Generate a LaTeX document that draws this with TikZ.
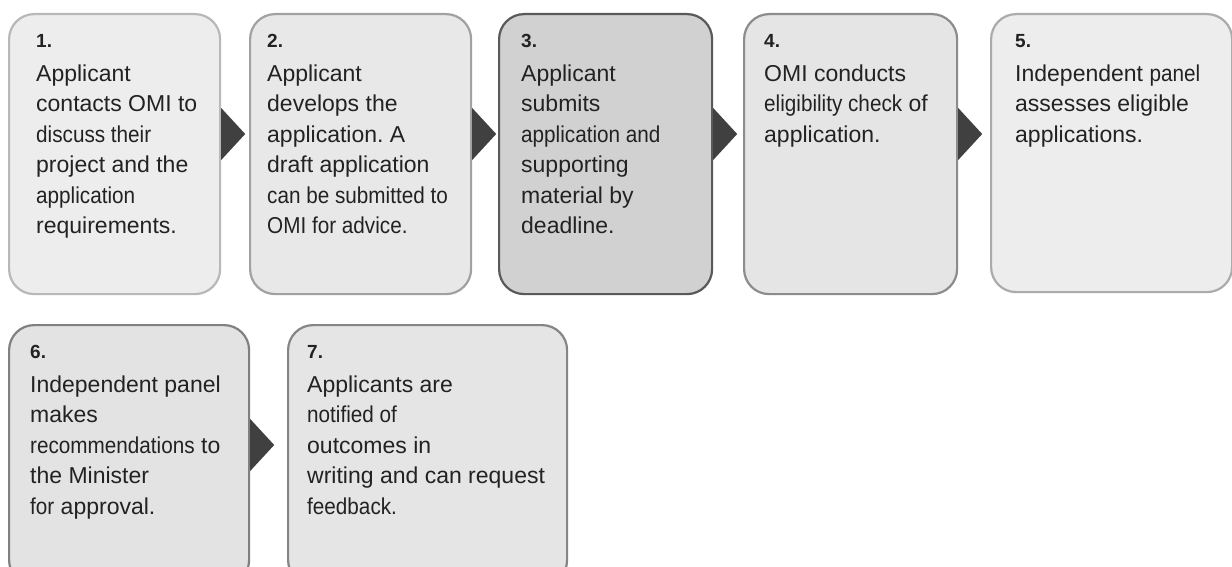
\documentclass[tikz,border=0pt]{standalone}
\usepackage{fontspec}
\usepackage{graphicx}
\setmainfont{Liberation Sans}
\newcommand{\cn}[1]{\scalebox{0.9}[1]{#1}}
\newcommand{\num}[1]{{\fontsize{19}{19}\selectfont\bfseries #1}}
\usetikzlibrary{calc}
\definecolor{arrowc}{HTML}{404040}
\definecolor{txtc}{HTML}{222222}
\frenchspacing
\begin{document}
\begin{tikzpicture}[x=1pt,y=-1pt,
  box/.style={draw, rounded corners=25pt, line width=2.2pt, anchor=north west, inner sep=0pt},
  txt/.style={anchor=north west, align=left, inner sep=0pt, text=txtc,
    font=\fontsize{23}{30.5}\selectfont},
  chev/.style={fill=arrowc}]
\useasboundingbox (0,0) rectangle (1232,567);
\clip (0,0) rectangle (1232,567);
% row 1
\node[box, draw=black!28, fill=black!7, minimum width=211pt, minimum height=280pt] (b1) at (8,13) {};
\node[box, draw=black!37, fill=black!9, minimum width=221pt, minimum height=280pt] (b2) at (249,13) {};
\node[box, draw=black!65, fill=black!18, minimum width=213pt, minimum height=280pt] (b3) at (498,13) {};
\node[box, draw=black!45, fill=black!10, minimum width=213pt, minimum height=280pt] (b4) at (743,13) {};
\node[box, draw=black!33, fill=black!7, minimum width=241pt, minimum height=278pt] (b5) at (990,13) {};
% row 2
\node[box, draw=black!50, fill=black!11, minimum width=240pt, minimum height=260pt] (b6) at (8,324) {};
\node[box, draw=black!48, fill=black!10, minimum width=279pt, minimum height=260pt] (b7) at (287,324) {};
% chevrons
\foreach \b in {b1,b2,b3,b4,b6}{
  \fill[chev] ($(\b.north east)+(0,95)$) -- ($(\b.north east)+(24,121)$) -- ($(\b.north east)+(0,147)$) -- cycle;
}
% texts
\node[txt] (t1) at ($(b1.north west)+(28,21)$) {\num{1.}\\[3.5pt]
Applicant\\ contacts OMI to\\ \cn{discuss their}\\ project and the\\ \cn{application}\\ requirements.};
\node[txt] (t2) at ($(b2.north west)+(18,21)$) {\num{2.}\\[3.5pt]
Applicant\\ develops the\\ application. A\\ draft application\\ \cn{can be submitted to}\\ \cn{OMI for advice.}};
\node[txt] (t3) at ($(b3.north west)+(23,21)$) {\num{3.}\\[3.5pt]
Applicant\\ submits\\ \cn{application and}\\ supporting\\ material by\\ deadline.};
\node[txt] (t4) at ($(b4.north west)+(21,21)$) {\num{4.}\\[3.5pt]
OMI conducts\\ \cn{eligibility check} of\\ application.};
\node[txt] (t5) at ($(b5.north west)+(25,21)$) {\num{5.}\\[3.5pt]
Independent \cn{panel}\\ assesses eligible\\ applications.};
\node[txt] (t6) at ($(b6.north west)+(22,21)$) {\num{6.}\\[3.5pt]
Independent panel\\ makes\\ \cn{recommendations} to\\ the Minister\\ \cn{for} approval.};
\node[txt] (t7) at ($(b7.north west)+(20,21)$) {\num{7.}\\[3.5pt]
Applicants are\\ \cn{notified of}\\ outcomes in\\ writing and can request\\ \cn{feedback.}};
\end{tikzpicture}
\end{document}
